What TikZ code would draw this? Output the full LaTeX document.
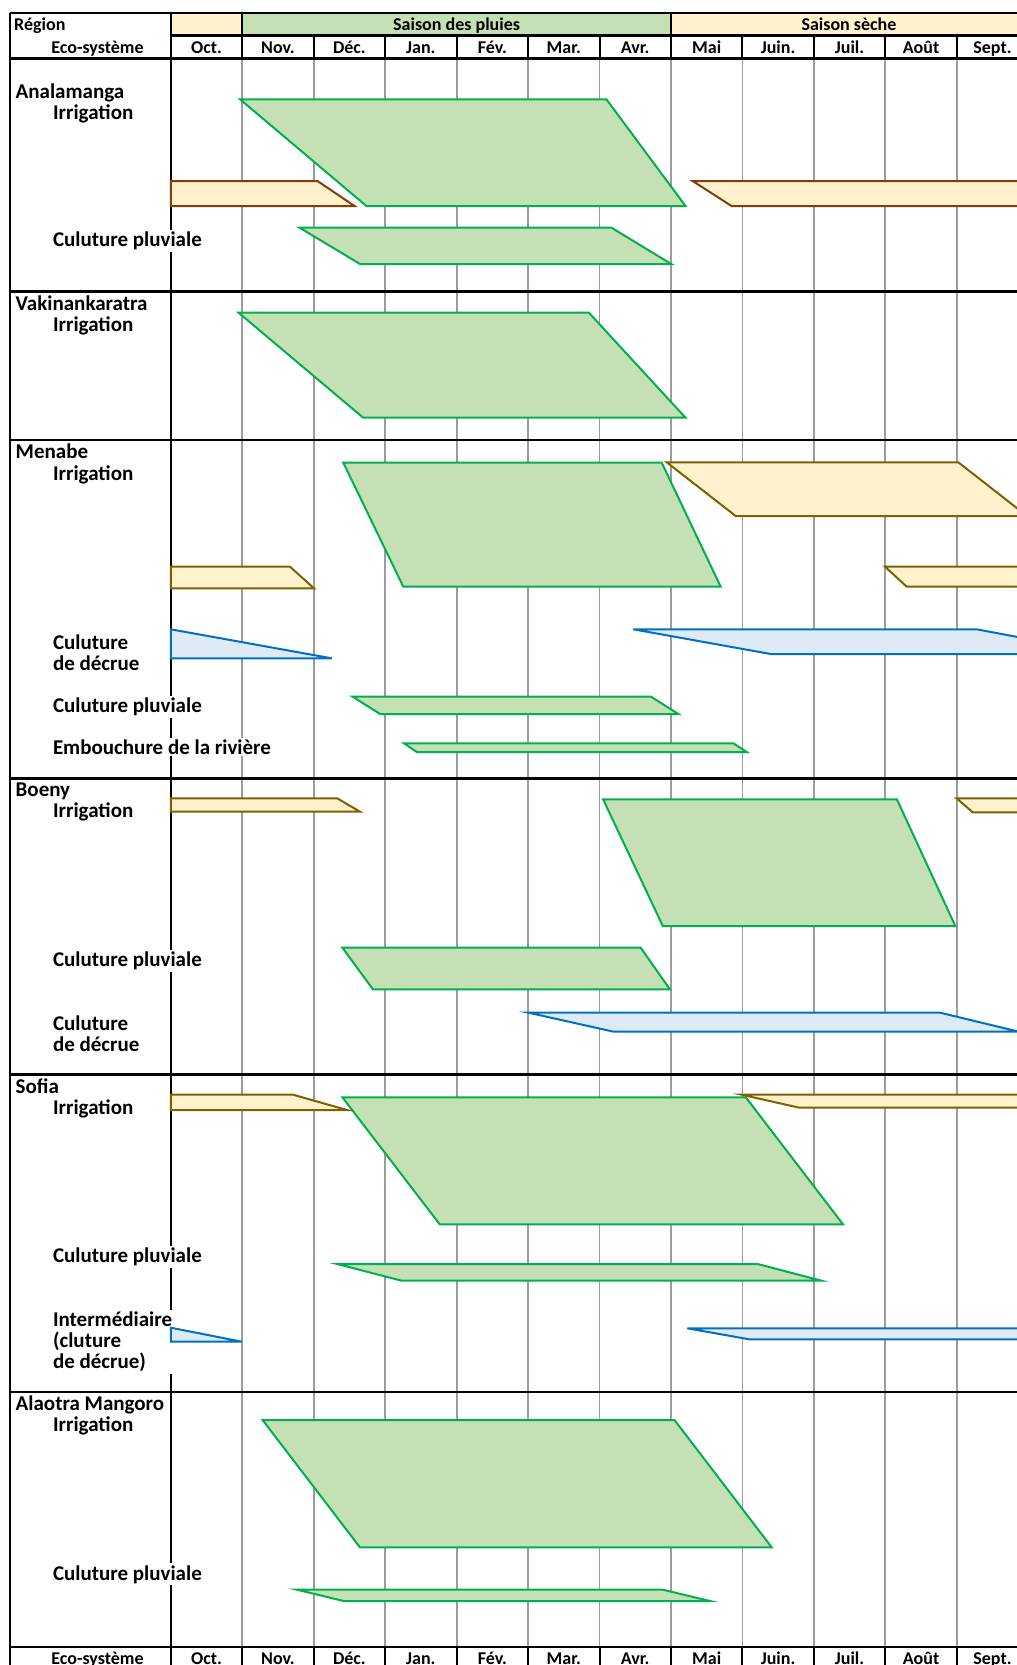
\documentclass[tikz,border=0pt]{standalone}
\usepackage{fontspec}
\setmainfont{Carlito}

\definecolor{rainfill}{HTML}{C5E0B4}
\definecolor{rainline}{HTML}{00B050}
\definecolor{dryfill}{HTML}{FFF2CC}
\definecolor{brownA}{HTML}{843C0C}
\definecolor{brownB}{HTML}{7F6000}
\definecolor{floodfill}{HTML}{DEEBF7}
\definecolor{floodline}{HTML}{0070C0}
\definecolor{gridgray}{HTML}{9C9C9C}

\tikzset{
  gridline/.style={draw=gridgray, line width=1.8pt},
  rule/.style={draw=black, line width=2.2pt},
  cellsep/.style={draw=black, line width=2pt},
  rainshape/.style={draw=rainline, fill=rainfill, line width=2pt},
  dryshapeA/.style={draw=brownA, fill=dryfill, line width=2pt},
  dryshape/.style={draw=brownB, fill=dryfill, line width=2pt},
  floodshape/.style={draw=floodline, fill=floodfill, line width=2pt},
  region/.style={anchor=base west, inner xsep=0.5pt, inner ysep=2pt,
    font=\fontsize{21}{21}\selectfont\bfseries},
  eco/.style={anchor=base west, inner xsep=0.5pt, inner ysep=2pt, fill=white,
    font=\fontsize{21}{21}\selectfont\bfseries},
  head/.style={anchor=base, inner sep=0pt, font=\fontsize{18}{18}\selectfont\bfseries},
}
% stacked lines whose baseline is that of the first line
\newcommand\stackedlines[1]{\vtop{\baselineskip=21pt\lineskiplimit=-20pt #1}}

\begin{document}
\begin{tikzpicture}[x=1pt, y=-1pt]
\useasboundingbox (0,0) rectangle (1017,1665);
\clip (0,0) rectangle (1017,1665);

% month boundaries: x_k = 170.8 + 71.45 k
\def\mx#1{170.8+71.45*#1}

% ---------- header cells ----------
\fill[dryfill]  (170.8,13) rectangle ({\mx{1}},35.5);
\fill[rainfill] ({\mx{1}},13) rectangle ({\mx{7}},35.5);
\fill[dryfill]  ({\mx{7}},13) rectangle (1040,35.5);
\foreach \k in {0,7,8,9,10,11} {
  \fill[dryfill] ({\mx{\k}},35.5) rectangle ({\mx{\k+1}},58.5);
  \fill[dryfill] ({\mx{\k}},1647) rectangle ({\mx{\k+1}},1680);
}
\foreach \k in {1,...,6} {
  \fill[rainfill] ({\mx{\k}},35.5) rectangle ({\mx{\k+1}},58.5);
  \fill[rainfill] ({\mx{\k}},1647) rectangle ({\mx{\k+1}},1680);
}

% ---------- month grid and column rule ----------
\foreach \k in {1,...,11}
  \draw[gridline] ({\mx{\k}},58.5) -- ({\mx{\k}},1647);
\draw[rule] (170.8,13) -- (170.8,1680);

% ---------- labels of the first column ----------
\node[region] (rA) at (15,98.3) {Analamanga};
\node[eco] (eA1) at (52.3,119.3) {Irrigation};
\node[eco] (eA2) at (52.3,246.7) {Culuture pluviale};

\node[region] (rV) at (15,310) {Vakinankaratra};
\node[eco] (eV1) at (52.3,331.7) {Irrigation};

\node[region] (rM) at (15,458.3) {Menabe};
\node[eco] (eM1) at (52.3,480) {Irrigation};
\node[eco] (eM2) at (52.3,649.3) {\stackedlines{\hbox{Culuture}\hbox{de décrue}}};
\node[eco] (eM3) at (52.3,712.7) {Culuture pluviale};
\node[eco] (eM4) at (52.3,754.3) {Embouchure de la rivière};

\node[region] (rB) at (15,796.7) {Boeny};
\node[eco] (eB1) at (52.3,817.7) {Irrigation};
\node[eco] (eB2) at (52.3,966.7) {Culuture pluviale};
\node[eco] (eB3) at (52.3,1030) {\stackedlines{\hbox{Culuture}\hbox{de décrue}}};

\node[region] (rS) at (15,1093.3) {Sofia};
\node[eco] (eS1) at (52.3,1114.3) {Irrigation};
\node[eco] (eS2) at (52.3,1262.7) {Culuture pluviale};
\node[eco] (eS3) at (52.3,1326.7) {\stackedlines{\hbox{Intermédiaire}\hbox{(cluture}\hbox{de décrue)}}};

\node[region] (rL) at (15,1410) {Alaotra Mangoro};
\node[eco] (eL1) at (52.3,1431.7) {Irrigation};
\node[eco] (eL2) at (52.3,1580) {Culuture pluviale};

% ---------- frame and section rules ----------
\draw[rule] (10,13) -- (1040,13);
\draw[rule] (170.8,35.5) -- (1040,35.5);
\draw[rule] (10,58.5) -- (1040,58.5);
\foreach \y in {291.5,440,778.5,1074.5,1392,1647}
  \draw[rule] (10,\y) -- (1040,\y);
\draw[rule] (10,13) -- (10,1680);
\draw[rule] (170.8,13) -- (170.8,58.5);
\foreach \k in {1,7}
  \draw[cellsep] ({\mx{\k}},13) -- ({\mx{\k}},35.5);
\foreach \k in {1,...,11} {
  \draw[cellsep] ({\mx{\k}},35.5) -- ({\mx{\k}},58.5);
  \draw[cellsep] ({\mx{\k}},1647) -- ({\mx{\k}},1680);
}

% ---------- header texts ----------
\node[head, anchor=base west] (hReg) at (14,30.5) {Région};
\node[head] (hPl) at ({(\mx{1}+\mx{7})/2},30.5) {Saison des pluies};
\node[head] (hSe) at ({(\mx{7}+1027)/2},30.5) {Saison sèche};
\node[head] (hEco) at (97.5,53.2) {Eco-système};
\node[head] (fEco) at (97.5,1664) {Eco-système};
\foreach \m [count=\i from 0] in {Oct.,Nov.,Déc.,Jan.,Fév.,Mar.,Avr.,Mai,Juin.,Juil.,Août,Sept.} {
  \node[head] (hm\i) at ({\mx{\i}+35.7},53.2) {\m};
  \node[head] (fm\i) at ({\mx{\i}+35.7},1664) {\m};
}

% ---------- Analamanga ----------
\draw[rainshape] (240,99.3) -- (606.4,99.3) -- (685.5,206) -- (366.4,206) -- cycle;
\draw[dryshapeA] (170.8,181) -- (317.5,181) -- (354.5,206) -- (170.8,206) -- cycle;
\draw[dryshapeA] (692.6,181) -- (1040,181) -- (1040,206) -- (731.5,206) -- cycle;
\draw[rainshape] (299.6,227.7) -- (611.5,227.7) -- (671.2,264) -- (360,264) -- cycle;

% ---------- Vakinankaratra ----------
\draw[rainshape] (238.6,312.7) -- (588.9,312.7) -- (685.5,417.7) -- (363.2,417.7) -- cycle;

% ---------- Menabe ----------
\draw[rainshape] (343.3,462.7) -- (661.7,462.7) -- (720.7,586.7) -- (403.3,586.7) -- cycle;
\draw[dryshape] (170.8,566.7) -- (290,566.7) -- (314,588.3) -- (170.8,588.3) -- cycle;
\draw[dryshape] (666.7,462.3) -- (958.3,462.3) -- (1027,516) -- (735.7,516) -- cycle;
\draw[dryshape] (885,566.7) -- (1040,566.7) -- (1040,586.7) -- (906.7,586.7) -- cycle;
\draw[floodshape] (170.8,629.3) -- (331.7,658.3) -- (170.8,658.3) -- cycle;
\draw[floodshape] (633.3,629.3) -- (976.7,629.3) -- (1108,654) -- (770.7,654) -- cycle;
\draw[rainshape] (352.7,696.7) -- (651,696.7) -- (678.3,714) -- (380,714) -- cycle;
\draw[rainshape] (404,743.3) -- (733.3,743.3) -- (746.7,752) -- (416.7,752) -- cycle;

% ---------- Boeny ----------
\draw[rainshape] (603.1,799.3) -- (896.9,799.3) -- (955.3,926) -- (662.8,926) -- cycle;
\draw[dryshape] (170.8,798.3) -- (337.2,798.3) -- (360,811.7) -- (170.8,811.7) -- cycle;
\draw[dryshape] (956.5,798.3) -- (1040,798.3) -- (1040,812.3) -- (972.8,812.3) -- cycle;
\draw[rainshape] (342.4,947.7) -- (640.7,947.7) -- (669.9,989.3) -- (372.9,989.3) -- cycle;
\draw[floodshape] (528.5,1012.7) -- (940.3,1012.7) -- (1018,1031.5) -- (612.8,1031.5) -- cycle;

% ---------- Sofia ----------
\draw[rainshape] (342.4,1097.3) -- (745.8,1097.3) -- (843,1224.3) -- (439.7,1224.3) -- cycle;
\draw[dryshape] (170.8,1094.7) -- (293.1,1094.7) -- (347,1110) -- (170.8,1110) -- cycle;
\draw[dryshape] (741.7,1094.7) -- (1040,1094.7) -- (1040,1107.7) -- (799.3,1107.7) -- cycle;
\draw[rainshape] (337.2,1264) -- (757.7,1264) -- (820.7,1280.5) -- (400.8,1280.5) -- cycle;
\draw[floodshape] (170.8,1327.7) -- (241.9,1341.7) -- (170.8,1341.7) -- cycle;
\draw[floodshape] (687.3,1328.3) -- (1040,1328.3) -- (1040,1339.3) -- (749.3,1339.3) -- cycle;

% ---------- Alaotra Mangoro ----------
\draw[rainshape] (262.6,1420) -- (674.5,1420) -- (771.7,1547.3) -- (359.9,1547.3) -- cycle;
\draw[rainshape] (297,1589.7) -- (662.8,1589.7) -- (710.1,1601) -- (343.7,1601) -- cycle;
\end{tikzpicture}
\end{document}
